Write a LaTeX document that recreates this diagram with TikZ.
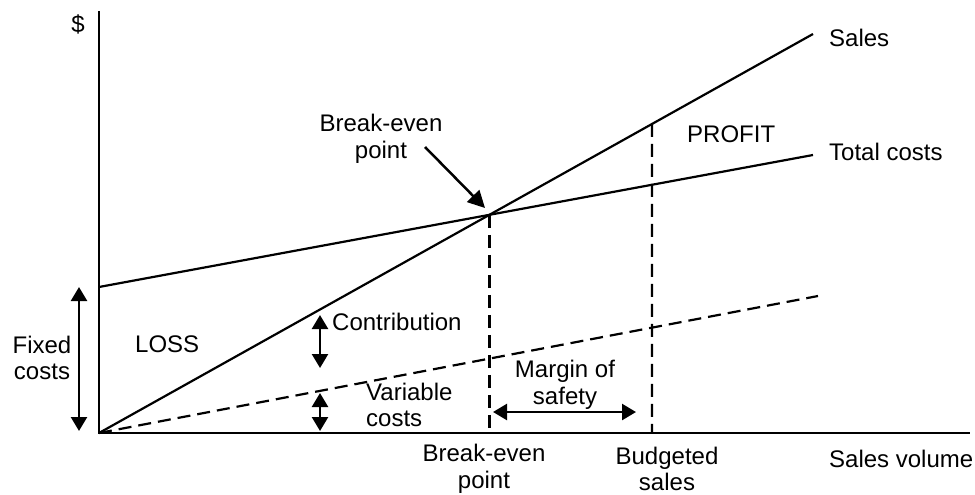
\documentclass[tikz,border=0pt]{standalone}
\usepackage{fontspec}
\setmainfont{Liberation Sans}
\usetikzlibrary{arrows.meta,intersections}
\begin{document}
\begin{tikzpicture}[x=1pt,y=-1pt,
  lbl/.style={inner sep=0pt,font=\fontsize{24}{26.5}\selectfont},
  lbl2/.style={lbl,align=center},
  ln/.style={line width=2.2pt},
  dsh/.style={line width=2.2pt,dash pattern=on 13pt off 7pt},
  dbl/.style={line width=2.5pt,{Triangle[length=14pt,width=16pt]}-{Triangle[length=14pt,width=16pt]}},
  ]
\useasboundingbox (0,0) rectangle (975,495);
\coordinate (O) at (99,433);
\coordinate (Ytop) at (99,11);
\coordinate (Xend) at (970,433);
\coordinate (Send) at (813,34);
\coordinate (TCstart) at (99,287);
\coordinate (TCend) at (813,155);
\coordinate (VCend) at (818,296);
\coordinate (BUDax) at (652,433);
\coordinate (BUDtop) at (652,0);
% axes
\draw[line width=2.6pt] (Ytop) -- (O) -- (Xend);
% lines
\draw[ln,name path=sales] (O) -- (Send);
\draw[ln,name path=tc] (TCstart) -- (TCend);
\draw[dsh] (O) -- (VCend);
\path[name intersections={of=sales and tc,by=BEP}];
\coordinate (BEPax) at (BEP |- O);
\draw[dsh] (BEP) -- (BEPax);
\path[name path=budline] (BUDtop) -- (BUDax);
\path[name intersections={of=sales and budline,by=BUD}];
\draw[dsh] (BUD) -- (BUDax);
% arrows
\coordinate (FCt) at (79,287);
\coordinate (FCb) at (79,431);
\draw[dbl] (FCt) -- (FCb);
\coordinate (CTt) at (320,315);
\coordinate (CTb) at (320,368);
\draw[dbl] (CTt) -- (CTb);
\coordinate (VCt) at (320,393);
\coordinate (VCb) at (320,431);
\draw[dbl] (VCt) -- (VCb);
\coordinate (MSl) at (493,412);
\coordinate (MSr) at (636,412);
\draw[dbl] (MSl) -- (MSr);
\coordinate (BEa) at (425,147);
\coordinate (BEtip) at (485,208);
\draw[line width=2.5pt,-{Triangle[length=17pt,width=17pt]}] (BEa) -- (BEtip);
% labels
\node[lbl] (dollar) at (78,24) {\$};
\node[lbl,anchor=base west] (salesl) at (829,47) {Sales};
\node[lbl,anchor=base west] (tcl) at (829,160) {Total costs};
\node[lbl,anchor=base west] (profit) at (687,142) {PROFIT};
\node[lbl,anchor=base west] (loss) at (135,352) {LOSS};
\node[lbl,anchor=base west] (contr) at (332,330) {Contribution};
\node[lbl,anchor=base west] (svol) at (829,467) {Sales volume};
\node[lbl2] (fc) at (42,358) {Fixed\\costs};
\node[lbl2] (bep1) at (381,139) {Break-even\\point};
\node[lbl2] (bep2) at (484,469) {Break-even\\point};
\node[lbl2] (budl) at (667,469) {Budgeted\\sales};
\node[lbl2] (mos) at (565,385) {Margin of\\safety};
\node[lbl,align=left,anchor=west] (vc) at (366,405) {Variable\\costs};
\end{tikzpicture}
\end{document}
